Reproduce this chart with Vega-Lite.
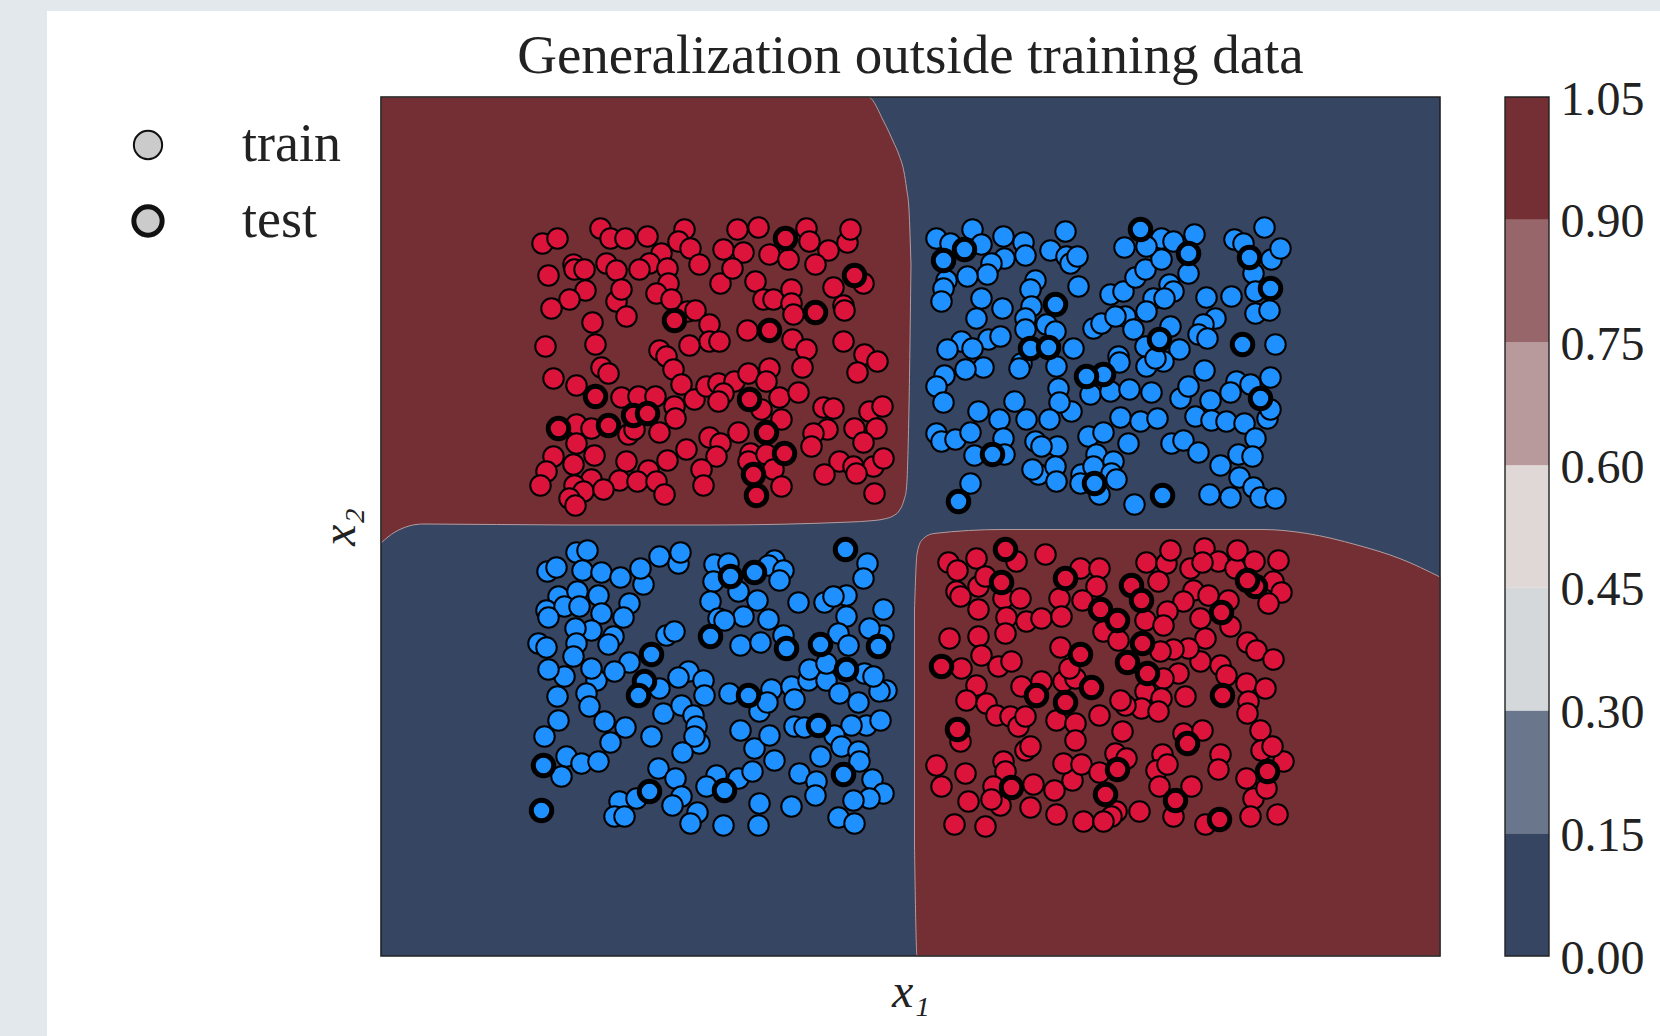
{"$schema":"https://vega.github.io/schema/vega-lite/v6.json","autosize":{"type":"none"},"padding":{"left":381,"top":97,"right":220,"bottom":80},"width":1059,"height":859,"background":"#e3e8ed",
"title":{"text":"Generalization outside training data","font":"Liberation Serif","fontSize":55,"fontWeight":"normal","color":"#222222","anchor":"middle","offset":-74},
"config":{"view":{"stroke":null},"axis":{"grid":false,"ticks":false,"domain":false,"labels":false}},
"datasets":{
"upper":[{"x1":-5.295,"top":4.295,"bottom":-0.165},{"x1":-5.155,"top":4.295,"bottom":-0.055},{"x1":-4.875,"top":4.295,"bottom":0.025},{"x1":-3.405,"top":4.295,"bottom":0.015},{"x1":-1.995,"top":4.295,"bottom":0.015},{"x1":-0.595,"top":4.295,"bottom":0.045},{"x1":-0.425,"top":4.295,"bottom":0.055},{"x1":-0.265,"top":4.045,"bottom":0.075},{"x1":-0.175,"top":3.855,"bottom":0.105},{"x1":-0.115,"top":3.715,"bottom":0.155},{"x1":-0.065,"top":3.545,"bottom":0.265},{"x1":-0.04,"top":3.385,"bottom":0.385},{"x1":-0.015,"top":3.165,"bottom":1.205},{"x1":0.005,"top":2.615,"bottom":2.615}],
"lower":[{"x1":0.04,"top":-0.835,"bottom":-3.185},{"x1":0.065,"top":-0.275,"bottom":-4.295},{"x1":0.115,"top":-0.135,"bottom":-4.295},{"x1":0.235,"top":-0.07,"bottom":-4.295},{"x1":0.925,"top":-0.03,"bottom":-4.295},{"x1":3.525,"top":-0.03,"bottom":-4.295},{"x1":3.965,"top":-0.07,"bottom":-4.295},{"x1":4.465,"top":-0.185,"bottom":-4.295},{"x1":4.905,"top":-0.325,"bottom":-4.295},{"x1":5.295,"top":-0.505,"bottom":-4.295}],
"bands":[{"lo":0,"hi":0.15,"band":"a"},{"lo":0.15,"hi":0.3,"band":"b"},{"lo":0.3,"hi":0.45,"band":"c"},{"lo":0.45,"hi":0.6,"band":"d"},{"lo":0.6,"hi":0.75,"band":"e"},{"lo":0.75,"hi":0.9,"band":"f"},{"lo":0.9,"hi":1.05,"band":"g"}],
"points":[
{"x1":-3.68,"x2":2.83,"label":"pos","set":"train"},{"x1":-3.53,"x2":2.88,"label":"pos","set":"train"},{"x1":-3.10,"x2":2.98,"label":"pos","set":"train"},{"x1":-3.00,"x2":2.88,"label":"pos","set":"train"},{"x1":-2.85,"x2":2.88,"label":"pos","set":"train"},{"x1":-2.63,"x2":2.90,"label":"pos","set":"train"},{"x1":-2.26,"x2":2.97,"label":"pos","set":"train"},{"x1":-2.32,"x2":2.85,"label":"pos","set":"train"},{"x1":-2.20,"x2":2.78,"label":"pos","set":"train"},{"x1":-2.49,"x2":2.73,"label":"pos","set":"train"},{"x1":-2.61,"x2":2.63,"label":"pos","set":"train"},{"x1":-2.71,"x2":2.57,"label":"pos","set":"train"},{"x1":-2.43,"x2":2.58,"label":"pos","set":"train"},{"x1":-2.11,"x2":2.62,"label":"pos","set":"train"},{"x1":-1.87,"x2":2.77,"label":"pos","set":"train"},{"x1":-1.73,"x2":2.97,"label":"pos","set":"train"},{"x1":-1.52,"x2":2.99,"label":"pos","set":"train"},{"x1":-1.67,"x2":2.74,"label":"pos","set":"train"},{"x1":-1.41,"x2":2.72,"label":"pos","set":"train"},{"x1":-1.22,"x2":2.67,"label":"pos","set":"train"},{"x1":-1.04,"x2":2.98,"label":"pos","set":"train"},{"x1":-1.01,"x2":2.85,"label":"pos","set":"train"},{"x1":-0.82,"x2":2.76,"label":"pos","set":"train"},{"x1":-0.63,"x2":2.84,"label":"pos","set":"train"},{"x1":-0.60,"x2":2.97,"label":"pos","set":"train"},{"x1":-0.95,"x2":2.62,"label":"pos","set":"train"},{"x1":-3.62,"x2":2.51,"label":"pos","set":"train"},{"x1":-3.37,"x2":2.62,"label":"pos","set":"train"},{"x1":-3.36,"x2":2.57,"label":"pos","set":"train"},{"x1":-3.26,"x2":2.57,"label":"pos","set":"train"},{"x1":-3.04,"x2":2.63,"label":"pos","set":"train"},{"x1":-2.94,"x2":2.56,"label":"pos","set":"train"},{"x1":-2.42,"x2":2.43,"label":"pos","set":"train"},{"x1":-2.54,"x2":2.33,"label":"pos","set":"train"},{"x1":-2.39,"x2":2.27,"label":"pos","set":"train"},{"x1":-3.25,"x2":2.36,"label":"pos","set":"train"},{"x1":-3.41,"x2":2.27,"label":"pos","set":"train"},{"x1":-3.59,"x2":2.18,"label":"pos","set":"train"},{"x1":-2.94,"x2":2.25,"label":"pos","set":"train"},{"x1":-2.89,"x2":2.37,"label":"pos","set":"train"},{"x1":-2.84,"x2":2.10,"label":"pos","set":"train"},{"x1":-1.90,"x2":2.43,"label":"pos","set":"train"},{"x1":-1.78,"x2":2.58,"label":"pos","set":"train"},{"x1":-1.55,"x2":2.45,"label":"pos","set":"train"},{"x1":-1.47,"x2":2.27,"label":"pos","set":"train"},{"x1":-1.37,"x2":2.27,"label":"pos","set":"train"},{"x1":-1.19,"x2":2.37,"label":"pos","set":"train"},{"x1":-1.19,"x2":2.23,"label":"pos","set":"train"},{"x1":-1.17,"x2":2.12,"label":"pos","set":"train"},{"x1":-0.77,"x2":2.39,"label":"pos","set":"train"},{"x1":-0.47,"x2":2.43,"label":"pos","set":"train"},{"x1":-0.67,"x2":2.21,"label":"pos","set":"train"},{"x1":-0.66,"x2":2.16,"label":"pos","set":"train"},{"x1":-3.18,"x2":2.04,"label":"pos","set":"train"},{"x1":-3.15,"x2":1.82,"label":"pos","set":"train"},{"x1":-3.65,"x2":1.80,"label":"pos","set":"train"},{"x1":-2.23,"x2":2.15,"label":"pos","set":"train"},{"x1":-2.15,"x2":2.16,"label":"pos","set":"train"},{"x1":-2.01,"x2":2.02,"label":"pos","set":"train"},{"x1":-2.01,"x2":1.85,"label":"pos","set":"train"},{"x1":-1.91,"x2":1.85,"label":"pos","set":"train"},{"x1":-2.21,"x2":1.81,"label":"pos","set":"train"},{"x1":-2.51,"x2":1.76,"label":"pos","set":"train"},{"x1":-2.44,"x2":1.70,"label":"pos","set":"train"},{"x1":-2.37,"x2":1.57,"label":"pos","set":"train"},{"x1":-1.63,"x2":1.96,"label":"pos","set":"train"},{"x1":-1.18,"x2":1.87,"label":"pos","set":"train"},{"x1":-1.04,"x2":1.77,"label":"pos","set":"train"},{"x1":-1.08,"x2":1.59,"label":"pos","set":"train"},{"x1":-0.67,"x2":1.85,"label":"pos","set":"train"},{"x1":-0.46,"x2":1.72,"label":"pos","set":"train"},{"x1":-0.33,"x2":1.65,"label":"pos","set":"train"},{"x1":-0.53,"x2":1.54,"label":"pos","set":"train"},{"x1":-3.57,"x2":1.48,"label":"pos","set":"train"},{"x1":-3.09,"x2":1.59,"label":"pos","set":"train"},{"x1":-3.02,"x2":1.53,"label":"pos","set":"train"},{"x1":-3.34,"x2":1.41,"label":"pos","set":"train"},{"x1":-2.29,"x2":1.42,"label":"pos","set":"train"},{"x1":-2.89,"x2":1.29,"label":"pos","set":"train"},{"x1":-2.72,"x2":1.30,"label":"pos","set":"train"},{"x1":-2.55,"x2":1.30,"label":"pos","set":"train"},{"x1":-2.36,"x2":1.20,"label":"pos","set":"train"},{"x1":-2.16,"x2":1.27,"label":"pos","set":"train"},{"x1":-2.04,"x2":1.40,"label":"pos","set":"train"},{"x1":-1.92,"x2":1.43,"label":"pos","set":"train"},{"x1":-1.76,"x2":1.45,"label":"pos","set":"train"},{"x1":-1.87,"x2":1.33,"label":"pos","set":"train"},{"x1":-1.92,"x2":1.25,"label":"pos","set":"train"},{"x1":-1.62,"x2":1.53,"label":"pos","set":"train"},{"x1":-1.41,"x2":1.58,"label":"pos","set":"train"},{"x1":-1.44,"x2":1.45,"label":"pos","set":"train"},{"x1":-1.31,"x2":1.29,"label":"pos","set":"train"},{"x1":-1.12,"x2":1.34,"label":"pos","set":"train"},{"x1":-1.49,"x2":1.17,"label":"pos","set":"train"},{"x1":-1.29,"x2":1.07,"label":"pos","set":"train"},{"x1":-0.87,"x2":1.19,"label":"pos","set":"train"},{"x1":-0.77,"x2":1.18,"label":"pos","set":"train"},{"x1":-0.41,"x2":1.15,"label":"pos","set":"train"},{"x1":-0.28,"x2":1.20,"label":"pos","set":"train"},{"x1":-0.83,"x2":0.97,"label":"pos","set":"train"},{"x1":-0.97,"x2":0.93,"label":"pos","set":"train"},{"x1":-0.56,"x2":0.98,"label":"pos","set":"train"},{"x1":-0.34,"x2":0.98,"label":"pos","set":"train"},{"x1":-0.47,"x2":0.84,"label":"pos","set":"train"},{"x1":-0.99,"x2":0.80,"label":"pos","set":"train"},{"x1":-2.35,"x2":1.08,"label":"pos","set":"train"},{"x1":-2.51,"x2":0.94,"label":"pos","set":"train"},{"x1":-2.82,"x2":0.92,"label":"pos","set":"train"},{"x1":-2.76,"x2":0.97,"label":"pos","set":"train"},{"x1":-3.34,"x2":1.02,"label":"pos","set":"train"},{"x1":-3.19,"x2":0.98,"label":"pos","set":"train"},{"x1":-1.72,"x2":0.94,"label":"pos","set":"train"},{"x1":-2.01,"x2":0.89,"label":"pos","set":"train"},{"x1":-1.90,"x2":0.83,"label":"pos","set":"train"},{"x1":-2.24,"x2":0.77,"label":"pos","set":"train"},{"x1":-1.94,"x2":0.70,"label":"pos","set":"train"},{"x1":-2.43,"x2":0.66,"label":"pos","set":"train"},{"x1":-3.34,"x2":0.83,"label":"pos","set":"train"},{"x1":-3.16,"x2":0.71,"label":"pos","set":"train"},{"x1":-3.57,"x2":0.70,"label":"pos","set":"train"},{"x1":-3.37,"x2":0.62,"label":"pos","set":"train"},{"x1":-3.64,"x2":0.55,"label":"pos","set":"train"},{"x1":-3.70,"x2":0.41,"label":"pos","set":"train"},{"x1":-2.84,"x2":0.65,"label":"pos","set":"train"},{"x1":-2.62,"x2":0.56,"label":"pos","set":"train"},{"x1":-2.91,"x2":0.46,"label":"pos","set":"train"},{"x1":-2.73,"x2":0.45,"label":"pos","set":"train"},{"x1":-2.54,"x2":0.45,"label":"pos","set":"train"},{"x1":-2.09,"x2":0.57,"label":"pos","set":"train"},{"x1":-2.07,"x2":0.41,"label":"pos","set":"train"},{"x1":-2.46,"x2":0.32,"label":"pos","set":"train"},{"x1":-3.19,"x2":0.47,"label":"pos","set":"train"},{"x1":-3.36,"x2":0.41,"label":"pos","set":"train"},{"x1":-3.27,"x2":0.35,"label":"pos","set":"train"},{"x1":-3.07,"x2":0.37,"label":"pos","set":"train"},{"x1":-3.41,"x2":0.28,"label":"pos","set":"train"},{"x1":-3.35,"x2":0.21,"label":"pos","set":"train"},{"x1":-1.60,"x2":0.73,"label":"pos","set":"train"},{"x1":-1.62,"x2":0.65,"label":"pos","set":"train"},{"x1":-1.44,"x2":0.72,"label":"pos","set":"train"},{"x1":-1.37,"x2":0.57,"label":"pos","set":"train"},{"x1":-1.29,"x2":0.40,"label":"pos","set":"train"},{"x1":-0.71,"x2":0.65,"label":"pos","set":"train"},{"x1":-0.57,"x2":0.60,"label":"pos","set":"train"},{"x1":-0.37,"x2":0.60,"label":"pos","set":"train"},{"x1":-0.27,"x2":0.68,"label":"pos","set":"train"},{"x1":-0.86,"x2":0.52,"label":"pos","set":"train"},{"x1":-0.54,"x2":0.53,"label":"pos","set":"train"},{"x1":-0.36,"x2":0.33,"label":"pos","set":"train"},
{"x1":0.26,"x2":2.88,"label":"neg","set":"train"},{"x1":0.62,"x2":2.97,"label":"neg","set":"train"},{"x1":0.40,"x2":2.83,"label":"neg","set":"train"},{"x1":0.71,"x2":2.82,"label":"neg","set":"train"},{"x1":0.93,"x2":2.90,"label":"neg","set":"train"},{"x1":1.13,"x2":2.84,"label":"neg","set":"train"},{"x1":1.15,"x2":2.71,"label":"neg","set":"train"},{"x1":0.94,"x2":2.68,"label":"neg","set":"train"},{"x1":0.81,"x2":2.63,"label":"neg","set":"train"},{"x1":1.40,"x2":2.76,"label":"neg","set":"train"},{"x1":1.55,"x2":2.95,"label":"neg","set":"train"},{"x1":1.56,"x2":2.70,"label":"neg","set":"train"},{"x1":1.60,"x2":2.63,"label":"neg","set":"train"},{"x1":1.67,"x2":2.70,"label":"neg","set":"train"},{"x1":0.77,"x2":2.52,"label":"neg","set":"train"},{"x1":0.57,"x2":2.50,"label":"neg","set":"train"},{"x1":0.36,"x2":2.46,"label":"neg","set":"train"},{"x1":0.33,"x2":2.38,"label":"neg","set":"train"},{"x1":0.31,"x2":2.25,"label":"neg","set":"train"},{"x1":0.71,"x2":2.28,"label":"neg","set":"train"},{"x1":0.92,"x2":2.18,"label":"neg","set":"train"},{"x1":0.66,"x2":2.08,"label":"neg","set":"train"},{"x1":1.25,"x2":2.46,"label":"neg","set":"train"},{"x1":1.20,"x2":2.37,"label":"neg","set":"train"},{"x1":1.68,"x2":2.40,"label":"neg","set":"train"},{"x1":1.21,"x2":2.20,"label":"neg","set":"train"},{"x1":1.15,"x2":2.08,"label":"neg","set":"train"},{"x1":1.36,"x2":2.02,"label":"neg","set":"train"},{"x1":1.45,"x2":1.95,"label":"neg","set":"train"},{"x1":1.15,"x2":1.97,"label":"neg","set":"train"},{"x1":0.78,"x2":1.87,"label":"neg","set":"train"},{"x1":0.90,"x2":1.90,"label":"neg","set":"train"},{"x1":0.51,"x2":1.85,"label":"neg","set":"train"},{"x1":0.62,"x2":1.78,"label":"neg","set":"train"},{"x1":0.37,"x2":1.77,"label":"neg","set":"train"},{"x1":1.63,"x2":1.78,"label":"neg","set":"train"},{"x1":1.46,"x2":1.60,"label":"neg","set":"train"},{"x1":0.73,"x2":1.59,"label":"neg","set":"train"},{"x1":0.55,"x2":1.57,"label":"neg","set":"train"},{"x1":0.34,"x2":1.51,"label":"neg","set":"train"},{"x1":0.26,"x2":1.40,"label":"neg","set":"train"},{"x1":0.33,"x2":1.24,"label":"neg","set":"train"},{"x1":1.11,"x2":1.63,"label":"neg","set":"train"},{"x1":1.09,"x2":1.58,"label":"neg","set":"train"},{"x1":1.48,"x2":1.38,"label":"neg","set":"train"},{"x1":1.61,"x2":1.15,"label":"neg","set":"train"},{"x1":1.49,"x2":1.24,"label":"neg","set":"train"},{"x1":1.39,"x2":1.07,"label":"neg","set":"train"},{"x1":1.16,"x2":1.07,"label":"neg","set":"train"},{"x1":1.04,"x2":1.25,"label":"neg","set":"train"},{"x1":0.89,"x2":1.07,"label":"neg","set":"train"},{"x1":0.68,"x2":1.15,"label":"neg","set":"train"},{"x1":0.26,"x2":0.93,"label":"neg","set":"train"},{"x1":0.31,"x2":0.85,"label":"neg","set":"train"},{"x1":0.45,"x2":0.87,"label":"neg","set":"train"},{"x1":0.60,"x2":0.94,"label":"neg","set":"train"},{"x1":0.93,"x2":0.88,"label":"neg","set":"train"},{"x1":0.64,"x2":0.71,"label":"neg","set":"train"},{"x1":0.94,"x2":0.72,"label":"neg","set":"train"},{"x1":1.25,"x2":0.85,"label":"neg","set":"train"},{"x1":1.47,"x2":0.80,"label":"neg","set":"train"},{"x1":1.31,"x2":0.80,"label":"neg","set":"train"},{"x1":1.28,"x2":0.52,"label":"neg","set":"train"},{"x1":1.22,"x2":0.57,"label":"neg","set":"train"},{"x1":1.45,"x2":0.60,"label":"neg","set":"train"},{"x1":1.46,"x2":0.45,"label":"neg","set":"train"},{"x1":0.60,"x2":0.43,"label":"neg","set":"train"},{"x1":2.00,"x2":2.32,"label":"neg","set":"train"},{"x1":2.15,"x2":2.10,"label":"neg","set":"train"},{"x1":2.13,"x2":2.35,"label":"neg","set":"train"},{"x1":2.25,"x2":2.49,"label":"neg","set":"train"},{"x1":2.35,"x2":2.57,"label":"neg","set":"train"},{"x1":2.51,"x2":2.67,"label":"neg","set":"train"},{"x1":2.51,"x2":2.88,"label":"neg","set":"train"},{"x1":2.63,"x2":2.85,"label":"neg","set":"train"},{"x1":2.84,"x2":2.92,"label":"neg","set":"train"},{"x1":2.36,"x2":2.80,"label":"neg","set":"train"},{"x1":2.14,"x2":2.79,"label":"neg","set":"train"},{"x1":2.78,"x2":2.53,"label":"neg","set":"train"},{"x1":2.59,"x2":2.42,"label":"neg","set":"train"},{"x1":2.63,"x2":2.35,"label":"neg","set":"train"},{"x1":2.43,"x2":2.28,"label":"neg","set":"train"},{"x1":2.54,"x2":2.28,"label":"neg","set":"train"},{"x1":2.36,"x2":2.15,"label":"neg","set":"train"},{"x1":1.83,"x2":1.98,"label":"neg","set":"train"},{"x1":1.91,"x2":2.03,"label":"neg","set":"train"},{"x1":2.05,"x2":2.10,"label":"neg","set":"train"},{"x1":2.23,"x2":1.97,"label":"neg","set":"train"},{"x1":2.96,"x2":2.29,"label":"neg","set":"train"},{"x1":3.21,"x2":2.30,"label":"neg","set":"train"},{"x1":3.05,"x2":2.08,"label":"neg","set":"train"},{"x1":2.93,"x2":2.02,"label":"neg","set":"train"},{"x1":2.88,"x2":1.92,"label":"neg","set":"train"},{"x1":2.97,"x2":1.88,"label":"neg","set":"train"},{"x1":2.60,"x2":2.00,"label":"neg","set":"train"},{"x1":2.69,"x2":1.77,"label":"neg","set":"train"},{"x1":2.35,"x2":1.80,"label":"neg","set":"train"},{"x1":2.53,"x2":1.65,"label":"neg","set":"train"},{"x1":2.36,"x2":1.60,"label":"neg","set":"train"},{"x1":2.45,"x2":1.68,"label":"neg","set":"train"},{"x1":3.65,"x2":1.82,"label":"neg","set":"train"},{"x1":3.24,"x2":2.87,"label":"neg","set":"train"},{"x1":3.54,"x2":2.99,"label":"neg","set":"train"},{"x1":3.33,"x2":2.83,"label":"neg","set":"train"},{"x1":3.61,"x2":2.67,"label":"neg","set":"train"},{"x1":3.70,"x2":2.78,"label":"neg","set":"train"},{"x1":3.43,"x2":2.53,"label":"neg","set":"train"},{"x1":3.45,"x2":2.35,"label":"neg","set":"train"},{"x1":3.45,"x2":2.13,"label":"neg","set":"train"},{"x1":3.59,"x2":2.16,"label":"neg","set":"train"},{"x1":2.08,"x2":1.70,"label":"neg","set":"train"},{"x1":2.09,"x2":1.64,"label":"neg","set":"train"},{"x1":1.80,"x2":1.32,"label":"neg","set":"train"},{"x1":2.00,"x2":1.35,"label":"neg","set":"train"},{"x1":2.19,"x2":1.37,"label":"neg","set":"train"},{"x1":2.41,"x2":1.34,"label":"neg","set":"train"},{"x1":2.94,"x2":1.56,"label":"neg","set":"train"},{"x1":2.70,"x2":1.28,"label":"neg","set":"train"},{"x1":2.78,"x2":1.40,"label":"neg","set":"train"},{"x1":3.00,"x2":1.26,"label":"neg","set":"train"},{"x1":3.26,"x2":1.45,"label":"neg","set":"train"},{"x1":3.20,"x2":1.34,"label":"neg","set":"train"},{"x1":3.40,"x2":1.42,"label":"neg","set":"train"},{"x1":3.60,"x2":1.49,"label":"neg","set":"train"},{"x1":3.57,"x2":1.08,"label":"neg","set":"train"},{"x1":3.60,"x2":1.17,"label":"neg","set":"train"},{"x1":2.85,"x2":1.10,"label":"neg","set":"train"},{"x1":3.01,"x2":1.06,"label":"neg","set":"train"},{"x1":3.16,"x2":1.05,"label":"neg","set":"train"},{"x1":3.34,"x2":1.03,"label":"neg","set":"train"},{"x1":2.10,"x2":1.09,"label":"neg","set":"train"},{"x1":2.30,"x2":1.05,"label":"neg","set":"train"},{"x1":2.47,"x2":1.08,"label":"neg","set":"train"},{"x1":1.78,"x2":0.90,"label":"neg","set":"train"},{"x1":1.93,"x2":0.94,"label":"neg","set":"train"},{"x1":2.18,"x2":0.83,"label":"neg","set":"train"},{"x1":1.86,"x2":0.72,"label":"neg","set":"train"},{"x1":2.03,"x2":0.65,"label":"neg","set":"train"},{"x1":1.71,"x2":0.52,"label":"neg","set":"train"},{"x1":1.83,"x2":0.60,"label":"neg","set":"train"},{"x1":2.01,"x2":0.53,"label":"neg","set":"train"},{"x1":2.06,"x2":0.47,"label":"neg","set":"train"},{"x1":1.70,"x2":0.43,"label":"neg","set":"train"},{"x1":1.89,"x2":0.32,"label":"neg","set":"train"},{"x1":2.61,"x2":0.83,"label":"neg","set":"train"},{"x1":2.73,"x2":0.86,"label":"neg","set":"train"},{"x1":2.88,"x2":0.74,"label":"neg","set":"train"},{"x1":3.10,"x2":0.61,"label":"neg","set":"train"},{"x1":3.28,"x2":0.72,"label":"neg","set":"train"},{"x1":3.45,"x2":0.88,"label":"neg","set":"train"},{"x1":3.42,"x2":0.70,"label":"neg","set":"train"},{"x1":3.29,"x2":0.49,"label":"neg","set":"train"},{"x1":3.43,"x2":0.39,"label":"neg","set":"train"},{"x1":2.99,"x2":0.32,"label":"neg","set":"train"},{"x1":3.20,"x2":0.29,"label":"neg","set":"train"},{"x1":3.50,"x2":0.29,"label":"neg","set":"train"},{"x1":3.65,"x2":0.28,"label":"neg","set":"train"},{"x1":2.24,"x2":0.22,"label":"neg","set":"train"},
{"x1":-3.63,"x2":-0.45,"label":"neg","set":"train"},{"x1":-3.54,"x2":-0.41,"label":"neg","set":"train"},{"x1":-3.34,"x2":-0.26,"label":"neg","set":"train"},{"x1":-3.23,"x2":-0.24,"label":"neg","set":"train"},{"x1":-3.28,"x2":-0.44,"label":"neg","set":"train"},{"x1":-3.09,"x2":-0.46,"label":"neg","set":"train"},{"x1":-2.90,"x2":-0.51,"label":"neg","set":"train"},{"x1":-2.67,"x2":-0.58,"label":"neg","set":"train"},{"x1":-2.70,"x2":-0.42,"label":"neg","set":"train"},{"x1":-2.51,"x2":-0.30,"label":"neg","set":"train"},{"x1":-2.32,"x2":-0.37,"label":"neg","set":"train"},{"x1":-2.30,"x2":-0.26,"label":"neg","set":"train"},{"x1":-1.96,"x2":-0.38,"label":"neg","set":"train"},{"x1":-1.97,"x2":-0.55,"label":"neg","set":"train"},{"x1":-1.82,"x2":-0.37,"label":"neg","set":"train"},{"x1":-1.36,"x2":-0.34,"label":"neg","set":"train"},{"x1":-1.42,"x2":-0.39,"label":"neg","set":"train"},{"x1":-1.27,"x2":-0.44,"label":"neg","set":"train"},{"x1":-1.31,"x2":-0.54,"label":"neg","set":"train"},{"x1":-2.00,"x2":-0.75,"label":"neg","set":"train"},{"x1":-1.72,"x2":-0.65,"label":"neg","set":"train"},{"x1":-1.53,"x2":-0.74,"label":"neg","set":"train"},{"x1":-1.42,"x2":-0.93,"label":"neg","set":"train"},{"x1":-1.67,"x2":-0.90,"label":"neg","set":"train"},{"x1":-1.12,"x2":-0.76,"label":"neg","set":"train"},{"x1":-0.86,"x2":-0.76,"label":"neg","set":"train"},{"x1":-0.64,"x2":-0.69,"label":"neg","set":"train"},{"x1":-0.77,"x2":-0.70,"label":"neg","set":"train"},{"x1":-0.64,"x2":-0.90,"label":"neg","set":"train"},{"x1":-0.27,"x2":-0.83,"label":"neg","set":"train"},{"x1":-0.27,"x2":-1.09,"label":"neg","set":"train"},{"x1":-0.41,"x2":-1.02,"label":"neg","set":"train"},{"x1":-3.52,"x2":-0.70,"label":"neg","set":"train"},{"x1":-3.33,"x2":-0.65,"label":"neg","set":"train"},{"x1":-3.12,"x2":-0.69,"label":"neg","set":"train"},{"x1":-2.81,"x2":-0.77,"label":"neg","set":"train"},{"x1":-3.64,"x2":-0.84,"label":"neg","set":"train"},{"x1":-3.46,"x2":-0.80,"label":"neg","set":"train"},{"x1":-3.62,"x2":-0.91,"label":"neg","set":"train"},{"x1":-3.31,"x2":-0.80,"label":"neg","set":"train"},{"x1":-3.09,"x2":-0.87,"label":"neg","set":"train"},{"x1":-2.87,"x2":-0.91,"label":"neg","set":"train"},{"x1":-3.19,"x2":-1.04,"label":"neg","set":"train"},{"x1":-3.35,"x2":-1.02,"label":"neg","set":"train"},{"x1":-2.97,"x2":-1.10,"label":"neg","set":"train"},{"x1":-3.02,"x2":-1.18,"label":"neg","set":"train"},{"x1":-3.34,"x2":-1.17,"label":"neg","set":"train"},{"x1":-2.44,"x2":-1.09,"label":"neg","set":"train"},{"x1":-2.36,"x2":-1.05,"label":"neg","set":"train"},{"x1":-3.72,"x2":-1.17,"label":"neg","set":"train"},{"x1":-3.64,"x2":-1.21,"label":"neg","set":"train"},{"x1":-3.37,"x2":-1.30,"label":"neg","set":"train"},{"x1":-2.81,"x2":-1.36,"label":"neg","set":"train"},{"x1":-3.46,"x2":-1.50,"label":"neg","set":"train"},{"x1":-3.62,"x2":-1.43,"label":"neg","set":"train"},{"x1":-3.14,"x2":-1.54,"label":"neg","set":"train"},{"x1":-3.19,"x2":-1.42,"label":"neg","set":"train"},{"x1":-2.96,"x2":-1.45,"label":"neg","set":"train"},{"x1":-1.92,"x2":-0.92,"label":"neg","set":"train"},{"x1":-1.86,"x2":-0.94,"label":"neg","set":"train"},{"x1":-1.70,"x2":-1.19,"label":"neg","set":"train"},{"x1":-1.50,"x2":-1.16,"label":"neg","set":"train"},{"x1":-1.27,"x2":-1.09,"label":"neg","set":"train"},{"x1":-3.53,"x2":-1.70,"label":"neg","set":"train"},{"x1":-3.24,"x2":-1.67,"label":"neg","set":"train"},{"x1":-3.21,"x2":-1.80,"label":"neg","set":"train"},{"x1":-3.52,"x2":-1.94,"label":"neg","set":"train"},{"x1":-3.66,"x2":-2.10,"label":"neg","set":"train"},{"x1":-3.06,"x2":-1.95,"label":"neg","set":"train"},{"x1":-2.85,"x2":-2.01,"label":"neg","set":"train"},{"x1":-3.00,"x2":-2.16,"label":"neg","set":"train"},{"x1":-2.59,"x2":-2.10,"label":"neg","set":"train"},{"x1":-2.47,"x2":-1.87,"label":"neg","set":"train"},{"x1":-2.29,"x2":-1.79,"label":"neg","set":"train"},{"x1":-2.22,"x2":-1.45,"label":"neg","set":"train"},{"x1":-2.07,"x2":-1.54,"label":"neg","set":"train"},{"x1":-2.32,"x2":-1.51,"label":"neg","set":"train"},{"x1":-2.51,"x2":-1.62,"label":"neg","set":"train"},{"x1":-2.06,"x2":-1.69,"label":"neg","set":"train"},{"x1":-2.17,"x2":-1.89,"label":"neg","set":"train"},{"x1":-2.14,"x2":-2.00,"label":"neg","set":"train"},{"x1":-2.11,"x2":-2.17,"label":"neg","set":"train"},{"x1":-2.16,"x2":-2.10,"label":"neg","set":"train"},{"x1":-2.28,"x2":-2.26,"label":"neg","set":"train"},{"x1":-3.44,"x2":-2.30,"label":"neg","set":"train"},{"x1":-3.29,"x2":-2.37,"label":"neg","set":"train"},{"x1":-3.12,"x2":-2.35,"label":"neg","set":"train"},{"x1":-3.49,"x2":-2.50,"label":"neg","set":"train"},{"x1":-2.52,"x2":-2.42,"label":"neg","set":"train"},{"x1":-2.35,"x2":-2.52,"label":"neg","set":"train"},{"x1":-2.29,"x2":-2.70,"label":"neg","set":"train"},{"x1":-2.38,"x2":-2.79,"label":"neg","set":"train"},{"x1":-2.13,"x2":-2.86,"label":"neg","set":"train"},{"x1":-2.20,"x2":-2.97,"label":"neg","set":"train"},{"x1":-1.87,"x2":-2.99,"label":"neg","set":"train"},{"x1":-1.52,"x2":-2.99,"label":"neg","set":"train"},{"x1":-1.51,"x2":-2.77,"label":"neg","set":"train"},{"x1":-1.19,"x2":-2.80,"label":"neg","set":"train"},{"x1":-2.91,"x2":-2.75,"label":"neg","set":"train"},{"x1":-2.96,"x2":-2.90,"label":"neg","set":"train"},{"x1":-2.86,"x2":-2.90,"label":"neg","set":"train"},{"x1":-2.74,"x2":-2.72,"label":"neg","set":"train"},{"x1":-1.94,"x2":-2.49,"label":"neg","set":"train"},{"x1":-1.72,"x2":-2.52,"label":"neg","set":"train"},{"x1":-2.04,"x2":-2.60,"label":"neg","set":"train"},{"x1":-1.58,"x2":-2.45,"label":"neg","set":"train"},{"x1":-1.36,"x2":-2.34,"label":"neg","set":"train"},{"x1":-1.56,"x2":-2.22,"label":"neg","set":"train"},{"x1":-1.41,"x2":-2.09,"label":"neg","set":"train"},{"x1":-1.70,"x2":-2.04,"label":"neg","set":"train"},{"x1":-1.81,"x2":-1.67,"label":"neg","set":"train"},{"x1":-1.39,"x2":-1.63,"label":"neg","set":"train"},{"x1":-1.51,"x2":-1.85,"label":"neg","set":"train"},{"x1":-1.43,"x2":-1.76,"label":"neg","set":"train"},{"x1":-1.19,"x2":-1.60,"label":"neg","set":"train"},{"x1":-1.16,"x2":-1.73,"label":"neg","set":"train"},{"x1":-1.02,"x2":-1.54,"label":"neg","set":"train"},{"x1":-1.01,"x2":-1.43,"label":"neg","set":"train"},{"x1":-0.84,"x2":-1.54,"label":"neg","set":"train"},{"x1":-0.71,"x2":-1.67,"label":"neg","set":"train"},{"x1":-0.52,"x2":-1.76,"label":"neg","set":"train"},{"x1":-0.24,"x2":-1.64,"label":"neg","set":"train"},{"x1":-0.31,"x2":-1.65,"label":"neg","set":"train"},{"x1":-0.46,"x2":-1.47,"label":"neg","set":"train"},{"x1":-0.37,"x2":-1.50,"label":"neg","set":"train"},{"x1":-1.16,"x2":-2.00,"label":"neg","set":"train"},{"x1":-1.06,"x2":-2.01,"label":"neg","set":"train"},{"x1":-0.44,"x2":-1.99,"label":"neg","set":"train"},{"x1":-0.30,"x2":-1.94,"label":"neg","set":"train"},{"x1":-0.59,"x2":-1.99,"label":"neg","set":"train"},{"x1":-0.76,"x2":-2.09,"label":"neg","set":"train"},{"x1":-0.69,"x2":-2.20,"label":"neg","set":"train"},{"x1":-0.52,"x2":-2.25,"label":"neg","set":"train"},{"x1":-0.51,"x2":-2.35,"label":"neg","set":"train"},{"x1":-0.90,"x2":-2.30,"label":"neg","set":"train"},{"x1":-1.11,"x2":-2.47,"label":"neg","set":"train"},{"x1":-0.94,"x2":-2.55,"label":"neg","set":"train"},{"x1":-0.95,"x2":-2.69,"label":"neg","set":"train"},{"x1":-0.38,"x2":-2.53,"label":"neg","set":"train"},{"x1":-0.27,"x2":-2.67,"label":"neg","set":"train"},{"x1":-0.41,"x2":-2.72,"label":"neg","set":"train"},{"x1":-0.57,"x2":-2.74,"label":"neg","set":"train"},{"x1":-0.72,"x2":-2.91,"label":"neg","set":"train"},{"x1":-0.56,"x2":-2.97,"label":"neg","set":"train"},{"x1":-0.72,"x2":-1.07,"label":"neg","set":"train"},{"x1":-0.62,"x2":-1.19,"label":"neg","set":"train"},{"x1":-0.43,"x2":-0.37,"label":"neg","set":"train"},{"x1":-0.47,"x2":-0.52,"label":"neg","set":"train"},{"x1":-0.84,"x2":-1.37,"label":"neg","set":"train"},
{"x1":0.38,"x2":-0.36,"label":"pos","set":"train"},{"x1":0.47,"x2":-0.44,"label":"pos","set":"train"},{"x1":0.66,"x2":-0.32,"label":"pos","set":"train"},{"x1":1.06,"x2":-0.35,"label":"pos","set":"train"},{"x1":1.35,"x2":-0.28,"label":"pos","set":"train"},{"x1":0.46,"x2":-0.65,"label":"pos","set":"train"},{"x1":0.50,"x2":-0.70,"label":"pos","set":"train"},{"x1":0.68,"x2":-0.60,"label":"pos","set":"train"},{"x1":0.75,"x2":-0.50,"label":"pos","set":"train"},{"x1":0.68,"x2":-0.83,"label":"pos","set":"train"},{"x1":0.93,"x2":-0.72,"label":"pos","set":"train"},{"x1":1.10,"x2":-0.72,"label":"pos","set":"train"},{"x1":0.96,"x2":-0.91,"label":"pos","set":"train"},{"x1":1.16,"x2":-0.95,"label":"pos","set":"train"},{"x1":1.31,"x2":-0.92,"label":"pos","set":"train"},{"x1":0.95,"x2":-1.07,"label":"pos","set":"train"},{"x1":1.49,"x2":-0.72,"label":"pos","set":"train"},{"x1":1.51,"x2":-0.90,"label":"pos","set":"train"},{"x1":1.70,"x2":-0.42,"label":"pos","set":"train"},{"x1":1.89,"x2":-0.42,"label":"pos","set":"train"},{"x1":1.86,"x2":-0.60,"label":"pos","set":"train"},{"x1":1.72,"x2":-0.74,"label":"pos","set":"train"},{"x1":2.36,"x2":-0.36,"label":"pos","set":"train"},{"x1":2.56,"x2":-0.37,"label":"pos","set":"train"},{"x1":2.60,"x2":-0.24,"label":"pos","set":"train"},{"x1":2.48,"x2":-0.55,"label":"pos","set":"train"},{"x1":2.80,"x2":-0.42,"label":"pos","set":"train"},{"x1":2.94,"x2":-0.22,"label":"pos","set":"train"},{"x1":3.08,"x2":-0.35,"label":"pos","set":"train"},{"x1":2.92,"x2":-0.36,"label":"pos","set":"train"},{"x1":3.25,"x2":-0.42,"label":"pos","set":"train"},{"x1":3.27,"x2":-0.24,"label":"pos","set":"train"},{"x1":3.44,"x2":-0.35,"label":"pos","set":"train"},{"x1":3.68,"x2":-0.34,"label":"pos","set":"train"},{"x1":3.63,"x2":-0.55,"label":"pos","set":"train"},{"x1":3.71,"x2":-0.66,"label":"pos","set":"train"},{"x1":3.58,"x2":-0.77,"label":"pos","set":"train"},{"x1":2.83,"x2":-0.64,"label":"pos","set":"train"},{"x1":2.98,"x2":-0.69,"label":"pos","set":"train"},{"x1":2.73,"x2":-0.75,"label":"pos","set":"train"},{"x1":2.57,"x2":-0.85,"label":"pos","set":"train"},{"x1":2.35,"x2":-0.94,"label":"pos","set":"train"},{"x1":2.53,"x2":-0.99,"label":"pos","set":"train"},{"x1":1.93,"x2":-1.05,"label":"pos","set":"train"},{"x1":2.08,"x2":-1.14,"label":"pos","set":"train"},{"x1":2.90,"x2":-0.92,"label":"pos","set":"train"},{"x1":3.18,"x2":-0.74,"label":"pos","set":"train"},{"x1":3.20,"x2":-1.00,"label":"pos","set":"train"},{"x1":2.95,"x2":-1.12,"label":"pos","set":"train"},{"x1":0.39,"x2":-1.12,"label":"pos","set":"train"},{"x1":0.68,"x2":-1.10,"label":"pos","set":"train"},{"x1":0.71,"x2":-1.29,"label":"pos","set":"train"},{"x1":0.88,"x2":-1.40,"label":"pos","set":"train"},{"x1":1.01,"x2":-1.35,"label":"pos","set":"train"},{"x1":0.51,"x2":-1.42,"label":"pos","set":"train"},{"x1":1.50,"x2":-1.21,"label":"pos","set":"train"},{"x1":3.37,"x2":-1.16,"label":"pos","set":"train"},{"x1":3.46,"x2":-1.24,"label":"pos","set":"train"},{"x1":3.63,"x2":-1.33,"label":"pos","set":"train"},{"x1":2.90,"x2":-1.35,"label":"pos","set":"train"},{"x1":2.78,"x2":-1.22,"label":"pos","set":"train"},{"x1":2.63,"x2":-1.23,"label":"pos","set":"train"},{"x1":2.50,"x2":-1.25,"label":"pos","set":"train"},{"x1":2.68,"x2":-1.47,"label":"pos","set":"train"},{"x1":2.53,"x2":-1.52,"label":"pos","set":"train"},{"x1":3.10,"x2":-1.39,"label":"pos","set":"train"},{"x1":3.16,"x2":-1.49,"label":"pos","set":"train"},{"x1":3.36,"x2":-1.57,"label":"pos","set":"train"},{"x1":3.55,"x2":-1.62,"label":"pos","set":"train"},{"x1":0.66,"x2":-1.59,"label":"pos","set":"train"},{"x1":0.56,"x2":-1.74,"label":"pos","set":"train"},{"x1":0.76,"x2":-1.77,"label":"pos","set":"train"},{"x1":1.11,"x2":-1.60,"label":"pos","set":"train"},{"x1":1.31,"x2":-1.55,"label":"pos","set":"train"},{"x1":1.53,"x2":-1.55,"label":"pos","set":"train"},{"x1":1.65,"x2":-1.52,"label":"pos","set":"train"},{"x1":1.59,"x2":-1.42,"label":"pos","set":"train"},{"x1":2.35,"x2":-1.65,"label":"pos","set":"train"},{"x1":2.51,"x2":-1.72,"label":"pos","set":"train"},{"x1":2.31,"x2":-1.82,"label":"pos","set":"train"},{"x1":2.48,"x2":-1.85,"label":"pos","set":"train"},{"x1":2.75,"x2":-1.70,"label":"pos","set":"train"},{"x1":2.15,"x2":-1.79,"label":"pos","set":"train"},{"x1":2.10,"x2":-1.74,"label":"pos","set":"train"},{"x1":0.86,"x2":-1.89,"label":"pos","set":"train"},{"x1":1.00,"x2":-1.90,"label":"pos","set":"train"},{"x1":1.08,"x2":-2.00,"label":"pos","set":"train"},{"x1":1.15,"x2":-1.90,"label":"pos","set":"train"},{"x1":1.46,"x2":-1.94,"label":"pos","set":"train"},{"x1":1.65,"x2":-1.97,"label":"pos","set":"train"},{"x1":1.89,"x2":-1.89,"label":"pos","set":"train"},{"x1":3.38,"x2":-1.75,"label":"pos","set":"train"},{"x1":3.37,"x2":-1.87,"label":"pos","set":"train"},{"x1":1.15,"x2":-2.24,"label":"pos","set":"train"},{"x1":1.20,"x2":-2.20,"label":"pos","set":"train"},{"x1":2.12,"x2":-2.05,"label":"pos","set":"train"},{"x1":1.65,"x2":-2.14,"label":"pos","set":"train"},{"x1":3.50,"x2":-2.04,"label":"pos","set":"train"},{"x1":3.73,"x2":-2.35,"label":"pos","set":"train"},{"x1":3.51,"x2":-2.24,"label":"pos","set":"train"},{"x1":3.62,"x2":-2.20,"label":"pos","set":"train"},{"x1":0.50,"x2":-2.15,"label":"pos","set":"train"},{"x1":2.05,"x2":-2.27,"label":"pos","set":"train"},{"x1":2.16,"x2":-2.32,"label":"pos","set":"train"},{"x1":2.73,"x2":-2.07,"label":"pos","set":"train"},{"x1":2.92,"x2":-2.04,"label":"pos","set":"train"},{"x1":3.10,"x2":-2.28,"label":"pos","set":"train"},{"x1":3.08,"x2":-2.43,"label":"pos","set":"train"},{"x1":2.52,"x2":-2.28,"label":"pos","set":"train"},{"x1":2.46,"x2":-2.44,"label":"pos","set":"train"},{"x1":2.57,"x2":-2.38,"label":"pos","set":"train"},{"x1":2.49,"x2":-2.60,"label":"pos","set":"train"},{"x1":2.81,"x2":-2.60,"label":"pos","set":"train"},{"x1":2.63,"x2":-2.90,"label":"pos","set":"train"},{"x1":0.26,"x2":-2.39,"label":"pos","set":"train"},{"x1":0.55,"x2":-2.47,"label":"pos","set":"train"},{"x1":0.31,"x2":-2.60,"label":"pos","set":"train"},{"x1":0.93,"x2":-2.35,"label":"pos","set":"train"},{"x1":0.95,"x2":-2.45,"label":"pos","set":"train"},{"x1":0.83,"x2":-2.60,"label":"pos","set":"train"},{"x1":0.90,"x2":-2.79,"label":"pos","set":"train"},{"x1":0.81,"x2":-2.73,"label":"pos","set":"train"},{"x1":0.58,"x2":-2.75,"label":"pos","set":"train"},{"x1":0.44,"x2":-2.98,"label":"pos","set":"train"},{"x1":0.75,"x2":-3.00,"label":"pos","set":"train"},{"x1":1.23,"x2":-2.58,"label":"pos","set":"train"},{"x1":1.44,"x2":-2.64,"label":"pos","set":"train"},{"x1":1.20,"x2":-2.81,"label":"pos","set":"train"},{"x1":1.62,"x2":-2.54,"label":"pos","set":"train"},{"x1":1.53,"x2":-2.37,"label":"pos","set":"train"},{"x1":1.71,"x2":-2.38,"label":"pos","set":"train"},{"x1":1.89,"x2":-2.46,"label":"pos","set":"train"},{"x1":2.06,"x2":-2.85,"label":"pos","set":"train"},{"x1":2.01,"x2":-2.90,"label":"pos","set":"train"},{"x1":1.46,"x2":-2.88,"label":"pos","set":"train"},{"x1":1.73,"x2":-2.95,"label":"pos","set":"train"},{"x1":1.93,"x2":-2.95,"label":"pos","set":"train"},{"x1":2.29,"x2":-2.85,"label":"pos","set":"train"},{"x1":3.36,"x2":-2.52,"label":"pos","set":"train"},{"x1":3.43,"x2":-2.72,"label":"pos","set":"train"},{"x1":3.56,"x2":-2.62,"label":"pos","set":"train"},{"x1":3.40,"x2":-2.90,"label":"pos","set":"train"},{"x1":3.67,"x2":-2.88,"label":"pos","set":"train"},{"x1":2.95,"x2":-2.98,"label":"pos","set":"train"},
{"x1":-1.25,"x2":2.88,"label":"pos","set":"test"},{"x1":-0.56,"x2":2.51,"label":"pos","set":"test"},{"x1":-2.36,"x2":2.06,"label":"pos","set":"test"},{"x1":-1.41,"x2":1.96,"label":"pos","set":"test"},{"x1":-0.95,"x2":2.14,"label":"pos","set":"test"},{"x1":-3.15,"x2":1.30,"label":"pos","set":"test"},{"x1":-1.61,"x2":1.27,"label":"pos","set":"test"},{"x1":-2.77,"x2":1.11,"label":"pos","set":"test"},{"x1":-2.63,"x2":1.13,"label":"pos","set":"test"},{"x1":-3.02,"x2":1.01,"label":"pos","set":"test"},{"x1":-3.52,"x2":0.98,"label":"pos","set":"test"},{"x1":-1.44,"x2":0.94,"label":"pos","set":"test"},{"x1":-1.26,"x2":0.73,"label":"pos","set":"test"},{"x1":-1.57,"x2":0.52,"label":"pos","set":"test"},{"x1":-1.54,"x2":0.31,"label":"pos","set":"test"},
{"x1":0.33,"x2":2.66,"label":"neg","set":"test"},{"x1":0.54,"x2":2.77,"label":"neg","set":"test"},{"x1":1.45,"x2":2.22,"label":"neg","set":"test"},{"x1":2.30,"x2":2.97,"label":"neg","set":"test"},{"x1":2.78,"x2":2.73,"label":"neg","set":"test"},{"x1":3.39,"x2":2.69,"label":"neg","set":"test"},{"x1":3.60,"x2":2.38,"label":"neg","set":"test"},{"x1":2.49,"x2":1.87,"label":"neg","set":"test"},{"x1":1.20,"x2":1.78,"label":"neg","set":"test"},{"x1":1.38,"x2":1.79,"label":"neg","set":"test"},{"x1":3.32,"x2":1.82,"label":"neg","set":"test"},{"x1":1.93,"x2":1.52,"label":"neg","set":"test"},{"x1":1.76,"x2":1.50,"label":"neg","set":"test"},{"x1":3.50,"x2":1.28,"label":"neg","set":"test"},{"x1":0.82,"x2":0.72,"label":"neg","set":"test"},{"x1":1.84,"x2":0.43,"label":"neg","set":"test"},{"x1":2.52,"x2":0.31,"label":"neg","set":"test"},{"x1":0.48,"x2":0.25,"label":"neg","set":"test"},
{"x1":-2.59,"x2":-1.28,"label":"neg","set":"test"},{"x1":-2.66,"x2":-1.55,"label":"neg","set":"test"},{"x1":-2.72,"x2":-1.69,"label":"neg","set":"test"},{"x1":-0.65,"x2":-0.23,"label":"neg","set":"test"},{"x1":-1.80,"x2":-0.50,"label":"neg","set":"test"},{"x1":-1.56,"x2":-0.46,"label":"neg","set":"test"},{"x1":-2.00,"x2":-1.10,"label":"neg","set":"test"},{"x1":-1.24,"x2":-1.22,"label":"neg","set":"test"},{"x1":-0.90,"x2":-1.18,"label":"neg","set":"test"},{"x1":-0.32,"x2":-1.20,"label":"neg","set":"test"},{"x1":-0.64,"x2":-1.43,"label":"neg","set":"test"},{"x1":-1.62,"x2":-1.69,"label":"neg","set":"test"},{"x1":-0.92,"x2":-1.99,"label":"neg","set":"test"},{"x1":-0.67,"x2":-2.48,"label":"neg","set":"test"},{"x1":-1.86,"x2":-2.64,"label":"neg","set":"test"},{"x1":-2.61,"x2":-2.65,"label":"neg","set":"test"},{"x1":-3.67,"x2":-2.39,"label":"neg","set":"test"},{"x1":-3.69,"x2":-2.84,"label":"neg","set":"test"},
{"x1":0.95,"x2":-0.23,"label":"pos","set":"test"},{"x1":0.91,"x2":-0.56,"label":"pos","set":"test"},{"x1":1.55,"x2":-0.52,"label":"pos","set":"test"},{"x1":2.21,"x2":-0.59,"label":"pos","set":"test"},{"x1":2.31,"x2":-0.74,"label":"pos","set":"test"},{"x1":1.90,"x2":-0.83,"label":"pos","set":"test"},{"x1":2.07,"x2":-0.94,"label":"pos","set":"test"},{"x1":3.11,"x2":-0.86,"label":"pos","set":"test"},{"x1":3.45,"x2":-0.60,"label":"pos","set":"test"},{"x1":3.37,"x2":-0.54,"label":"pos","set":"test"},{"x1":2.32,"x2":-1.17,"label":"pos","set":"test"},{"x1":1.70,"x2":-1.28,"label":"pos","set":"test"},{"x1":2.17,"x2":-1.36,"label":"pos","set":"test"},{"x1":2.37,"x2":-1.47,"label":"pos","set":"test"},{"x1":0.31,"x2":-1.40,"label":"pos","set":"test"},{"x1":1.26,"x2":-1.69,"label":"pos","set":"test"},{"x1":1.81,"x2":-1.61,"label":"pos","set":"test"},{"x1":1.55,"x2":-1.76,"label":"pos","set":"test"},{"x1":3.12,"x2":-1.69,"label":"pos","set":"test"},{"x1":0.47,"x2":-2.03,"label":"pos","set":"test"},{"x1":2.77,"x2":-2.17,"label":"pos","set":"test"},{"x1":2.07,"x2":-2.43,"label":"pos","set":"test"},{"x1":3.57,"x2":-2.45,"label":"pos","set":"test"},{"x1":1.01,"x2":-2.61,"label":"pos","set":"test"},{"x1":1.95,"x2":-2.68,"label":"pos","set":"test"},{"x1":2.65,"x2":-2.74,"label":"pos","set":"test"},{"x1":3.09,"x2":-2.93,"label":"pos","set":"test"}
]},
"layer":[
{"layer":[
{"data":{"values":[{}]},"mark":{"type":"rect","fill":"#ffffff"},"encoding":{"x":{"datum":-8.635,"type":"quantitative","scale":{"domain":[-5.295,5.295],"nice":false}},"x2":{"datum":8},"y":{"datum":5.155,"type":"quantitative","scale":{"domain":[-4.295,4.295],"nice":false}},"y2":{"datum":-6}}},
{"data":{"values":[{}]},"mark":{"type":"rect","fill":"#364562"},"encoding":{"x":{"datum":-5.295,"type":"quantitative","scale":{"domain":[-5.295,5.295],"nice":false}},"x2":{"datum":5.295},"y":{"datum":4.295,"type":"quantitative","scale":{"domain":[-4.295,4.295],"nice":false}},"y2":{"datum":-4.295}}},
{"data":{"name":"upper"},"mark":{"type":"area","fill":"#732f33","stroke":"#b39c9f","strokeWidth":1,"interpolate":"monotone"},"encoding":{"x":{"field":"x1","type":"quantitative","scale":{"domain":[-5.295,5.295],"nice":false}},"y":{"field":"top","type":"quantitative","scale":{"domain":[-4.295,4.295],"nice":false}},"y2":{"field":"bottom"}}},
{"data":{"name":"lower"},"mark":{"type":"area","fill":"#732f33","stroke":"#b39c9f","strokeWidth":1,"interpolate":"monotone"},"encoding":{"x":{"field":"x1","type":"quantitative","scale":{"domain":[-5.295,5.295],"nice":false}},"y":{"field":"top","type":"quantitative","scale":{"domain":[-4.295,4.295],"nice":false}},"y2":{"field":"bottom"}}},
{"data":{"values":[{}]},"mark":{"type":"rect","fill":null,"stroke":"#222222","strokeWidth":1.6},"encoding":{"x":{"datum":-5.295,"type":"quantitative","scale":{"domain":[-5.295,5.295],"nice":false}},"x2":{"datum":5.295},"y":{"datum":4.295,"type":"quantitative","scale":{"domain":[-4.295,4.295],"nice":false}},"y2":{"datum":-4.295}}},
{"data":{"name":"points"},"mark":{"type":"point","filled":false,"size":420,"shape":"circle","opacity":1,"fillOpacity":1,"strokeOpacity":1},"encoding":{
"x":{"field":"x1","type":"quantitative","scale":{"domain":[-5.295,5.295],"nice":false},"axis":{"title":"x₁","titleFont":"Liberation Serif","titleFontStyle":"italic","titleFontWeight":"normal","titleFontSize":48,"titleColor":"#222222","labels":false,"ticks":false,"domain":false,"grid":false,"titlePadding":12,"zindex":1}},
"y":{"field":"x2","type":"quantitative","scale":{"domain":[-4.295,4.295],"nice":false},"axis":{"title":"x₂","titleFont":"Liberation Serif","titleFontStyle":"italic","titleFontWeight":"normal","titleFontSize":48,"titleColor":"#222222","labels":false,"ticks":false,"domain":false,"grid":false,"titlePadding":17,"zindex":1}},
"fill":{"field":"label","type":"nominal","scale":{"domain":["neg","pos"],"range":["#1e90ff","#dc143c"]},"legend":null},
"strokeWidth":{"field":"set","type":"nominal","scale":{"domain":["train","test"],"range":[2,5]},"legend":{"orient":"none","legendX":-260,"legendY":21,"title":null,"padding":0,"symbolSize":800,"symbolType":"circle","symbolFillColor":"#cbcbcb","symbolStrokeColor":"#111111","labelFont":"Liberation Serif","labelFontSize":54,"labelColor":"#222222","labelOffset":67,"rowPadding":22}},
"stroke":{"value":"#000000"}}}
]},
{"layer":[
{"data":{"name":"bands"},"mark":{"type":"rect"},"encoding":{"x":{"datum":5.945,"type":"quantitative","scale":{"domain":[-5.295,5.295],"nice":false}},"x2":{"datum":6.385},"y":{"field":"lo","type":"quantitative","scale":{"domain":[0,1.05],"nice":false},"axis":{"orient":"right","offset":109,"title":null,"values":[0,0.15,0.3,0.45,0.6,0.75,0.9,1.05],"format":".2f","labels":true,"labelFont":"Liberation Serif","labelFontSize":48,"labelColor":"#222222","ticks":false,"domain":false,"grid":false,"labelPadding":11,"labelOffset":3,"labelFlush":false,"labelOverlap":false,"zindex":1}},"y2":{"field":"hi"},"fill":{"field":"band","type":"nominal","scale":{"domain":["a","b","c","d","e","f","g"],"range":["#364562","#6a768c","#d4d8db","#e0d8d6","#b89a9c","#97666a","#732f33"]},"legend":null}}},
{"data":{"values":[{}]},"mark":{"type":"rect","fill":null,"stroke":"#222222","strokeWidth":1.4},"encoding":{"x":{"datum":5.945,"type":"quantitative","scale":{"domain":[-5.295,5.295],"nice":false}},"x2":{"datum":6.385},"y":{"datum":0,"type":"quantitative","scale":{"domain":[0,1.05],"nice":false},"axis":{"orient":"right","offset":109,"title":null,"values":[0,0.15,0.3,0.45,0.6,0.75,0.9,1.05],"format":".2f","labels":true,"labelFont":"Liberation Serif","labelFontSize":48,"labelColor":"#222222","ticks":false,"domain":false,"grid":false,"labelPadding":11,"labelOffset":3,"labelFlush":false,"labelOverlap":false,"zindex":1}},"y2":{"datum":1.05}}}
]}
],
"resolve":{"scale":{"y":"independent","fill":"independent"},"axis":{"y":"independent"}}
}
